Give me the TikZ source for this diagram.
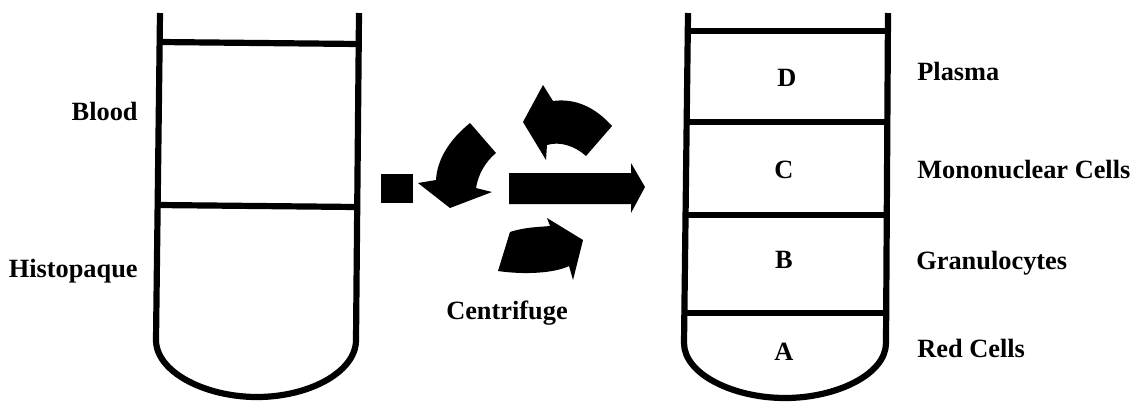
\documentclass[tikz,border=0pt]{standalone}
\usepackage{fontspec}
\setmainfont{Liberation Serif}
\begin{document}
\begin{tikzpicture}[x=0.02cm,y=-0.02cm,
  wall/.style={line width=6.2*0.02cm, line join=round, line cap=butt},
  lbl/.style={font=\fontsize{15}{17}\selectfont\bfseries, inner sep=0pt},
  solid arrow/.style={fill=black, draw=none}]
\useasboundingbox (0,0) rectangle (1145,403);
\fill[white] (0,0) rectangle (1145,403);

% left tube
\draw[wall] (160,13) -- (156,340) .. controls (156,372) and (205,397) .. (257,397)
  .. controls (309,397) and (356,372) .. (356,340) -- (359,13);
\draw[wall] (160,42) -- (359,44);
\draw[wall] (158,205) -- (357,207);

% right tube
\draw[wall] (688,13) -- (684,343) .. controls (684,374) and (733,398) .. (785,398)
  .. controls (837,398) and (886,374) .. (886,343) -- (888,13);
\draw[wall] (688,31) -- (888,31);
\draw[wall] (687,122) -- (887,122);
\draw[wall] (686,215) -- (887,215);
\draw[wall] (685,313) -- (886,313);

% layer letters
\node[lbl, anchor=base] (d) at (787,86) {D};
\node[lbl, anchor=base] (c) at (784,178) {C};
\node[lbl, anchor=base] (b) at (784,268) {B};
\node[lbl, anchor=base] (a) at (784,360) {A};

% layer names
\node[lbl, anchor=base west] (plasma) at (917,80) {Plasma};
\node[lbl, anchor=base west] (mono) at (917,178) {Mononuclear Cells};
\node[lbl, anchor=base west] (gran) at (916,269) {Granulocytes};
\node[lbl, anchor=base west] (red) at (917,357) {Red Cells};

% left tube labels
\node[lbl, anchor=base east] (blood) at (138,120) {Blood};
\node[lbl, anchor=base east] (histo) at (138,277) {Histopaque};

% centrifuge symbol
\fill[solid arrow] (381,174) rectangle (413,203);
\fill[solid arrow] (509,173) -- (631,173) -- (631,163) -- (645,187) -- (631,213)
  -- (631,204) -- (509,204) -- cycle;
% top rotating arrow
\fill[solid arrow] (612,126) .. controls (595,107) and (575,98) .. (553,101)
  -- (543,85) -- (523,122) -- (546,160) -- (547,145)
  .. controls (560,141) and (575,146) .. (586,156) -- cycle;
% left rotating arrow
\fill[solid arrow] (470,123) .. controls (449,140) and (437,160) .. (436,180)
  -- (418,183) -- (450,208) -- (492,192) -- (476,188)
  .. controls (478,175) and (485,162) .. (496,153) -- cycle;
% bottom rotating arrow
\fill[solid arrow] (510,232) .. controls (525,227) and (540,227) .. (550,226)
  -- (547,218) -- (583,240) -- (573,280) -- (569,266)
  .. controls (555,273) and (525,275) .. (498,271) -- cycle;

\node[lbl, anchor=base] (centrifuge) at (507,319) {Centrifuge};
\end{tikzpicture}
\end{document}
